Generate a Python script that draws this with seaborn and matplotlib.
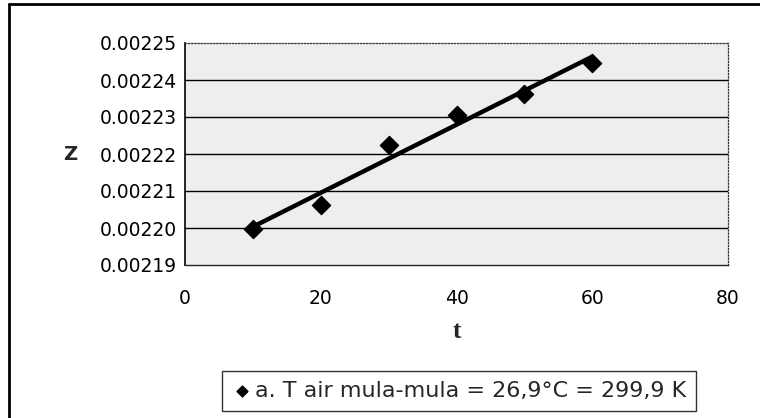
import matplotlib
matplotlib.use("Agg")
import matplotlib.pyplot as plt
import seaborn as sns
import pandas as pd
from matplotlib.lines import Line2D

# Measured values
t_values = [10, 20, 30, 40, 50, 60]
z_values = [0.0021998, 0.0022063, 0.0022225, 0.0022305, 0.0022361, 0.0022447]
x_ticks = [0, 20, 40, 60, 80]
y_ticks = [0.00219, 0.00220, 0.00221, 0.00222, 0.00223, 0.00224, 0.00225]
y_tick_labels = ["0.00219", "0.00220", "0.00221", "0.00222", "0.00223", "0.00224", "0.00225"]
series_label = "a. T air mula-mula = 26,9°C = 299,9 K"

df = pd.DataFrame({"t": t_values, "Z": z_values})

sns.set_theme(style="white")
plt.rcParams["font.family"] = ["DejaVu Sans"]

W, H = 760, 418
fig = plt.figure(figsize=(W / 100, H / 100), dpi=100)
ax = fig.add_axes([185 / W, 1 - 265 / H, (728 - 185) / W, (265 - 43) / H])
ax.set_facecolor("#eeeeee")

sns.regplot(
    data=df, x="t", y="Z", ax=ax, ci=None, truncate=True,
    marker="D", color="black", label=series_label,
    scatter_kws={"s": 85, "zorder": 4, "edgecolors": "black", "alpha": 1.0},
    line_kws={"linewidth": 3.2, "zorder": 3, "solid_capstyle": "round"},
)

ax.set_xlim(0, 80)
ax.set_ylim(0.00219, 0.00225)
ax.set_xticks(x_ticks)
ax.set_xticklabels([str(v) for v in x_ticks])
ax.set_yticks(y_ticks)
ax.set_yticklabels(y_tick_labels)

# horizontal gridlines at the inner major ticks
for yv in y_ticks[1:-1]:
    ax.axhline(yv, color="black", linewidth=1.0, zorder=1)

for side in ["top", "right"]:
    ax.spines[side].set_linestyle((0, (1, 1.5)))
    ax.spines[side].set_linewidth(0.9)
    ax.spines[side].set_color("#333333")
ax.spines["left"].set_linewidth(1.2)
ax.spines["left"].set_color("black")
ax.spines["bottom"].set_linewidth(1.0)
ax.spines["bottom"].set_color("#222222")

ax.tick_params(axis="both", which="major", length=4, width=1, color="black",
               labelsize=13.5, labelcolor="black", direction="out")
ax.tick_params(axis="x", pad=13)
ax.tick_params(axis="y", pad=2)

ax.set_xlabel("t", fontsize=18, fontweight="bold", family="Liberation Serif", labelpad=9)
ax.set_ylabel("Z", fontsize=14, fontweight="bold", rotation=0,
              va="center", ha="center")
ax.yaxis.set_label_coords((70 - 185) / (728 - 185), (265 - 155) / (265 - 43))

leg = ax.legend(loc="center", bbox_to_anchor=(459 / W, 1 - 391 / H),
                bbox_transform=fig.transFigure, frameon=True, fontsize=16,
                handletextpad=0.15, handlelength=0.9, borderpad=0.45,
                markerscale=0.6, fancybox=False)
leg.get_frame().set_edgecolor("black")
leg.get_frame().set_linewidth(1.0)
leg.get_frame().set_facecolor("white")

# outer chart frame (top and left edges)
fig.add_artist(Line2D([9 / W, 1.0], [1 - 4 / H, 1 - 4 / H], transform=fig.transFigure,
                      color="black", linewidth=2.0))
fig.add_artist(Line2D([9 / W, 9 / W], [0.0, 1 - 4 / H], transform=fig.transFigure,
                      color="black", linewidth=2.0))

fig.savefig("out.png", dpi=100)
